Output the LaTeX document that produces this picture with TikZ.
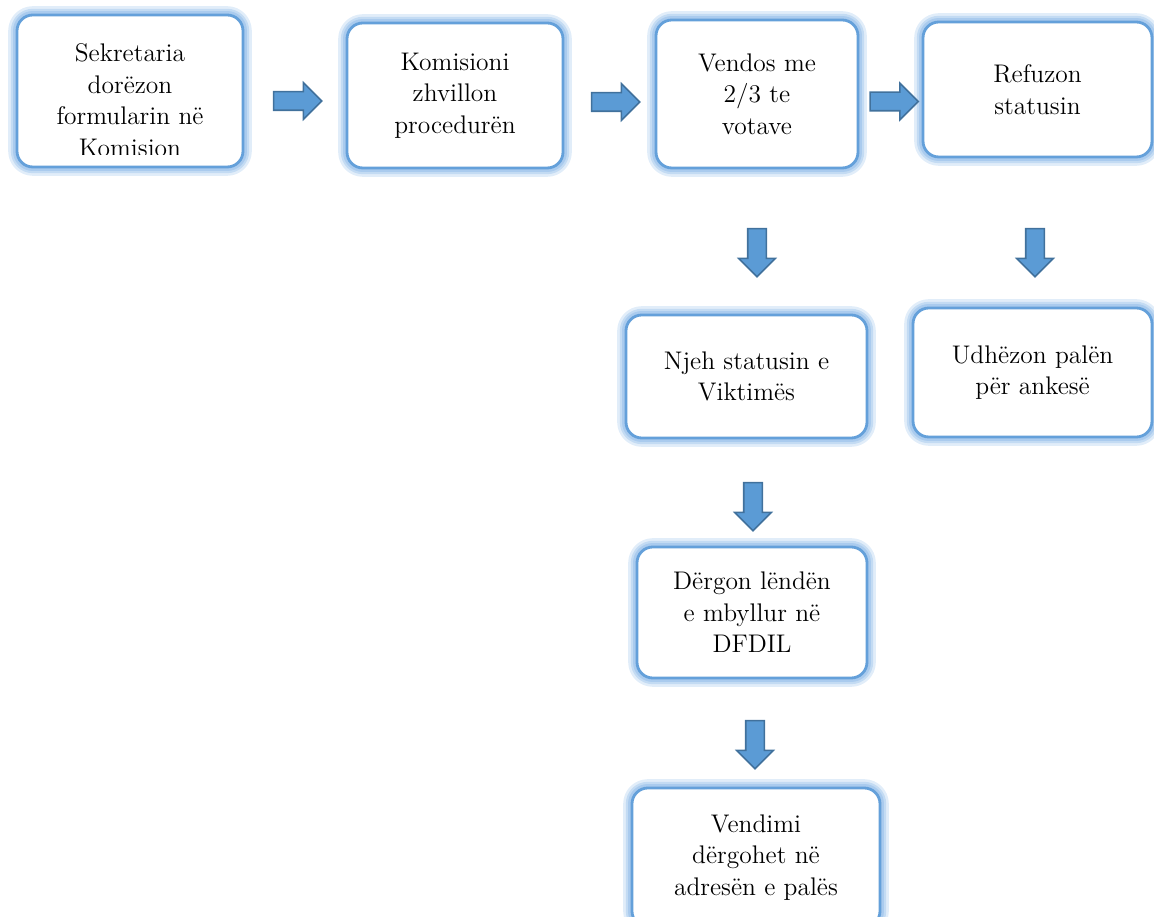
\documentclass[tikz,border=0pt]{standalone}
\usepackage{fontspec}
\usepackage{xcolor}
\usepackage{tikz}
\usetikzlibrary{shapes.arrows,positioning,calc}

\definecolor{boxline}{RGB}{100,160,218}
\definecolor{boxglow}{RGB}{170,203,238}
\definecolor{arrfill}{RGB}{91,155,213}
\definecolor{arrline}{RGB}{65,113,156}

\begin{document}
\begin{tikzpicture}[
  every node/.style={inner sep=2pt},
  box/.style={draw=boxline, line width=1.6pt, rounded corners=9pt, fill=white,
    preaction={draw=boxglow!35, line width=10pt},
    preaction={draw=boxglow!70, line width=7pt},
    preaction={draw=boxglow, line width=4.5pt}},
  txt/.style={align=center, font=\fontsize{14.5}{18}\selectfont},
  rarr/.style={single arrow, draw=arrline, fill=arrfill, line width=0.9pt,
    minimum height=0.96cm, inner sep=0.17cm, single arrow head extend=0.18cm},
  darr/.style={rarr, rotate=-90}
]
\useasboundingbox (0,0) rectangle (23.08,-18.34);

% --- top row ---
\node[box, minimum width=4.52cm, minimum height=3.04cm] (sek) at (2.60,-1.82) {};
\begin{scope}
  \clip ([yshift=0.28cm]sek.south west) rectangle (sek.north east);
  \node[txt] (sektxt) at (2.60,-2.00) {Sekretaria\\dorëzon\\formularin në\\Komision};
\end{scope}
\node[box, txt, minimum width=4.32cm, minimum height=2.90cm] (kom) at (9.10,-1.91)
  {Komisioni\\zhvillon\\procedurën};
\node[box, txt, minimum width=4.04cm, minimum height=2.96cm] (vend) at (15.14,-1.88)
  {Vendos me\\2/3 te\\votave};
\node[box, txt, minimum width=4.58cm, minimum height=2.70cm] (ref) at (20.75,-1.79)
  {Refuzon\\statusin};

% --- lower boxes ---
\node[box, txt, minimum width=4.82cm, minimum height=2.46cm] (njeh) at (14.93,-7.53)
  {Njeh statusin e\\Viktimës};
\node[box, txt, minimum width=4.78cm, minimum height=2.58cm] (udh) at (20.65,-7.45)
  {Udhëzon palën\\për ankesë};
\node[box, txt, minimum width=4.60cm, minimum height=2.62cm] (derg) at (15.04,-12.25)
  {Dërgon lëndën\\e mbyllur në\\DFDIL};
\node[box, txt, minimum width=4.96cm, minimum height=2.78cm] (vdm) at (15.12,-17.15)
  {Vendimi\\dërgohet në\\adresën e palës};

% --- block arrows ---
\foreach \n/\x/\y in {harr1/5.86/-2.02, harr2/12.22/-2.04, harr3/17.79/-2.03} {
  \node[rarr] (\n) at (\x,\y) {};
}
\foreach \n/\x/\y in {darr1/15.14/-4.96, darr2/20.70/-4.96, darr3/15.06/-10.04, darr4/15.10/-14.80} {
  \node[darr] (\n) at (\x,\y) {};
}

\end{tikzpicture}
\end{document}
